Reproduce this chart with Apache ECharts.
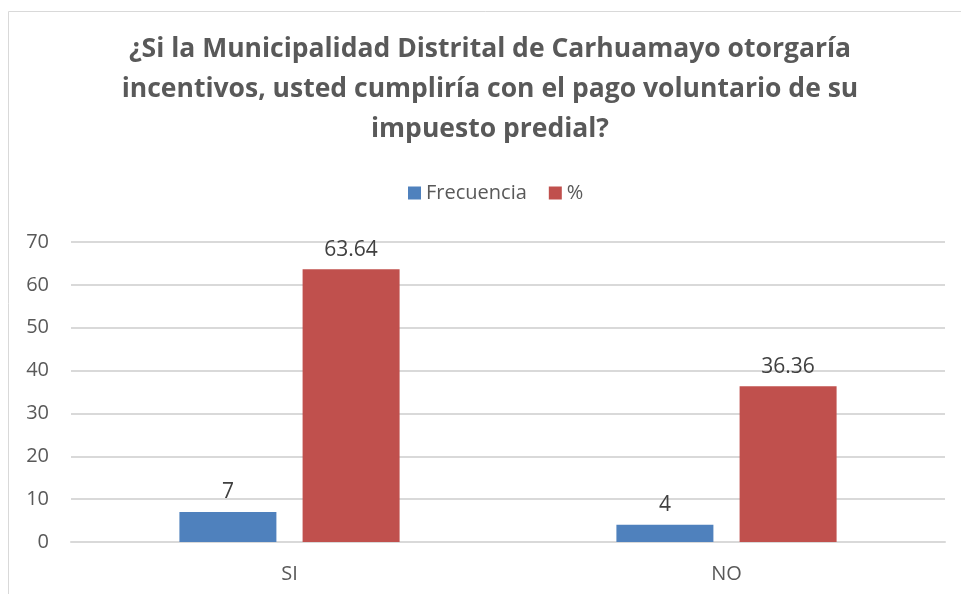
<!DOCTYPE html>
<html>
<head>
<meta charset="utf-8">
<script src="https://cdn.jsdelivr.net/npm/echarts@6/dist/echarts.min.js"></script>
<style>
  html, body { margin: 0; padding: 0; background: #fff; }
  #chart { width: 961px; height: 594px; }
</style>
</head>
<body>
<div id="chart"></div>
<script>
  // datos
  const categorias = ['SI', 'NO']
  const frecuencia = [7, 4]
  const porcentaje = [63.64, 36.36]

  const chart = echarts.init(document.getElementById('chart'))
  const fuente = '"Open Sans", "Noto Sans", sans-serif'

  chart.setOption({
    animation: false,
    textStyle: { fontFamily: fuente },
    graphic: [
      {
        type: 'rect',
        shape: { x: 8.5, y: 11.5, width: 1000, height: 700 },
        style: { fill: 'none', stroke: '#d9d9d9', lineWidth: 1 }
      },
      {
        type: 'text',
        x: 490,
        y: 29,
        style: {
          text: '¿Si la Municipalidad Distrital de Carhuamayo otorgaría\nincentivos, usted cumpliría con el pago voluntario de su\nimpuesto predial?',
          align: 'center',
          verticalAlign: 'top',
          font: 'bold 26.5px ' + fuente,
          lineHeight: 40,
          fill: '#595959'
        }
      }
    ],
    legend: {
      top: 178,
      left: 403,
      itemWidth: 13,
      itemHeight: 13,
      itemGap: 22,
      icon: 'rect',
      textStyle: { fontSize: 20, color: '#595959', fontFamily: fuente },
      data: ['Frecuencia', '%']
    },
    grid: {
      left: 71,
      right: 16,
      top: 242,
      bottom: 52
    },
    xAxis: {
      type: 'category',
      data: categorias,
      axisLine: { lineStyle: { color: '#d9d9d9', width: 2 } },
      axisTick: { show: false },
      axisLabel: { fontSize: 20, color: '#595959', margin: 22 }
    },
    yAxis: {
      type: 'value',
      min: 0,
      max: 70,
      interval: 10,
      axisLine: { show: false },
      axisTick: { show: false },
      axisLabel: { fontSize: 20, color: '#595959', margin: 22 },
      splitLine: { lineStyle: { color: '#d9d9d9', width: 2 } }
    },
    series: [
      {
        name: 'Frecuencia',
        type: 'bar',
        data: frecuencia,
        barWidth: 97,
        barGap: '27%',
        itemStyle: { color: '#4f81bd' },
        label: { show: true, position: 'top', distance: 9, fontSize: 21, color: '#404040' }
      },
      {
        name: '%',
        type: 'bar',
        data: porcentaje,
        barWidth: 97,
        itemStyle: { color: '#c0504d' },
        label: { show: true, position: 'top', distance: 9, fontSize: 21, color: '#404040' }
      }
    ]
  })
</script>
</body>
</html>
